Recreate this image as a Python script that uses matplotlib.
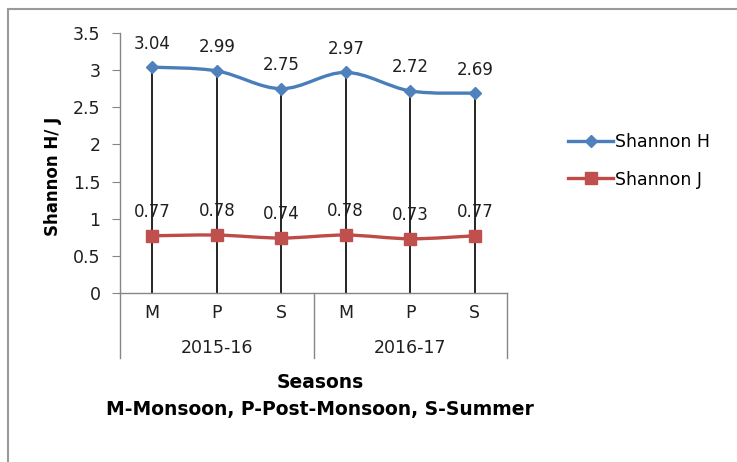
import matplotlib.pyplot as plt
from matplotlib.path import Path
from matplotlib.patches import PathPatch, Rectangle
from matplotlib.lines import Line2D
from matplotlib.transforms import blended_transform_factory

plt.rcParams['font.family'] = ['DejaVu Sans']

seasons = ['M', 'P', 'S', 'M', 'P', 'S']
years = ['2015-16', '2016-17']
shannon_h = [3.04, 2.99, 2.75, 2.97, 2.72, 2.69]
shannon_j = [0.77, 0.78, 0.74, 0.78, 0.73, 0.77]

blue_line, blue_mark = '#4A7EBB', '#4F81BD'
red_line, red_mark = '#BE4B48', '#C0504D'
axis_grey = '#868686'
txt = '#1f1f1f'


def smooth_path(xs, ys):
    """Bezier path through the points, Excel style smoothing."""
    pts = list(zip(xs, ys))
    verts = [pts[0]]
    codes = [Path.MOVETO]
    n = len(pts)
    for i in range(n - 1):
        p0 = pts[max(i - 1, 0)]
        p1 = pts[i]
        p2 = pts[i + 1]
        p3 = pts[min(i + 2, n - 1)]
        c1 = (p1[0] + (p2[0] - p0[0]) / 6, p1[1] + (p2[1] - p0[1]) / 6)
        c2 = (p2[0] - (p3[0] - p1[0]) / 6, p2[1] - (p3[1] - p1[1]) / 6)
        verts += [c1, c2, p2]
        codes += [Path.CURVE4] * 3
    return Path(verts, codes)


fig = plt.figure(figsize=(7.37, 4.62), dpi=100)
ax = fig.add_axes([120 / 737, 1 - 293 / 462, 387 / 737, 260 / 462])

x = list(range(len(seasons)))

# drop lines from the upper series down to the axis
for xi, h, j in zip(x, shannon_h, shannon_j):
    ax.plot([xi, xi], [0, max(h, j)], color='black', lw=1.2, zorder=1)

for vals, lc, mc, mk, ms in [(shannon_h, blue_line, blue_mark, 'D', 6),
                             (shannon_j, red_line, red_mark, 's', 9)]:
    ax.add_patch(PathPatch(smooth_path(x, vals), fill=False, edgecolor=lc,
                           lw=2.4, zorder=2))
    ax.plot(x, vals, linestyle='none', marker=mk, markersize=ms,
            color=mc, zorder=3)
    for xi, v in zip(x, vals):
        ax.annotate(f'{v:.2f}', (xi, v), xytext=(0, 17), textcoords='offset points',
                    ha='center', va='center', fontsize=12, color=txt)

ax.set_xlim(-0.5, len(seasons) - 0.5)
ax.set_ylim(0, 3.5)
ax.set_yticks([0, 0.5, 1, 1.5, 2, 2.5, 3, 3.5])
ax.set_yticklabels(['0', '0.5', '1', '1.5', '2', '2.5', '3', '3.5'])
ax.tick_params(axis='y', labelsize=12.5, length=6, pad=8, color=axis_grey,
               labelcolor=txt)
ax.set_xticks([])

for s in ['top', 'right']:
    ax.spines[s].set_visible(False)
for s in ['left', 'bottom']:
    ax.spines[s].set_color(axis_grey)
    ax.spines[s].set_linewidth(1)

# two level category axis
tr = blended_transform_factory(ax.transData, ax.transAxes)
for xd in [-0.5, 2.5, 5.5]:
    ax.add_line(Line2D([xd, xd], [0, -0.25], transform=tr, color=axis_grey,
                       lw=1, clip_on=False))
for xi, s in zip(x, seasons):
    ax.text(xi, -0.077, s, transform=tr, ha='center', va='center',
            fontsize=12.5, color=txt)
for k, yr in enumerate(years):
    ax.text(3 * k + 1, -0.212, yr, transform=tr, ha='center', va='center',
            fontsize=12.5, color=txt)

ax.set_ylabel('Shannon H/ J', fontsize=12, fontweight='bold')
ax.yaxis.set_label_coords(-0.15, 0.45)
fig.text(320 / 737, 1 - 383 / 462, 'Seasons', ha='center', va='center',
         fontsize=13.5, fontweight='bold')
fig.text(320 / 737, 1 - 409 / 462, 'M-Monsoon, P-Post-Monsoon, S-Summer',
         ha='center', va='center', fontsize=13.5, fontweight='bold')

handles = [Line2D([], [], color=blue_line, lw=2.4, marker='D', markersize=6,
                  markerfacecolor=blue_mark, markeredgecolor=blue_mark),
           Line2D([], [], color=red_line, lw=2.4, marker='s', markersize=9,
                  markerfacecolor=red_mark, markeredgecolor=red_mark)]
fig.legend(handles, ['Shannon H', 'Shannon J'], loc='center left',
           bbox_to_anchor=(568 / 737, 1 - 161 / 462), frameon=False,
           fontsize=12.5, handlelength=2.6, handletextpad=0.1,
           labelspacing=1.1, borderaxespad=0, borderpad=0)

# chart frame
fig.patches.append(Rectangle((8 / 737, -0.1), 1.2, 1 - 9 / 462 + 0.1,
                             transform=fig.transFigure, fill=False,
                             edgecolor='#9a9a9a', lw=1.5))

fig.savefig('out.png', dpi=100)
